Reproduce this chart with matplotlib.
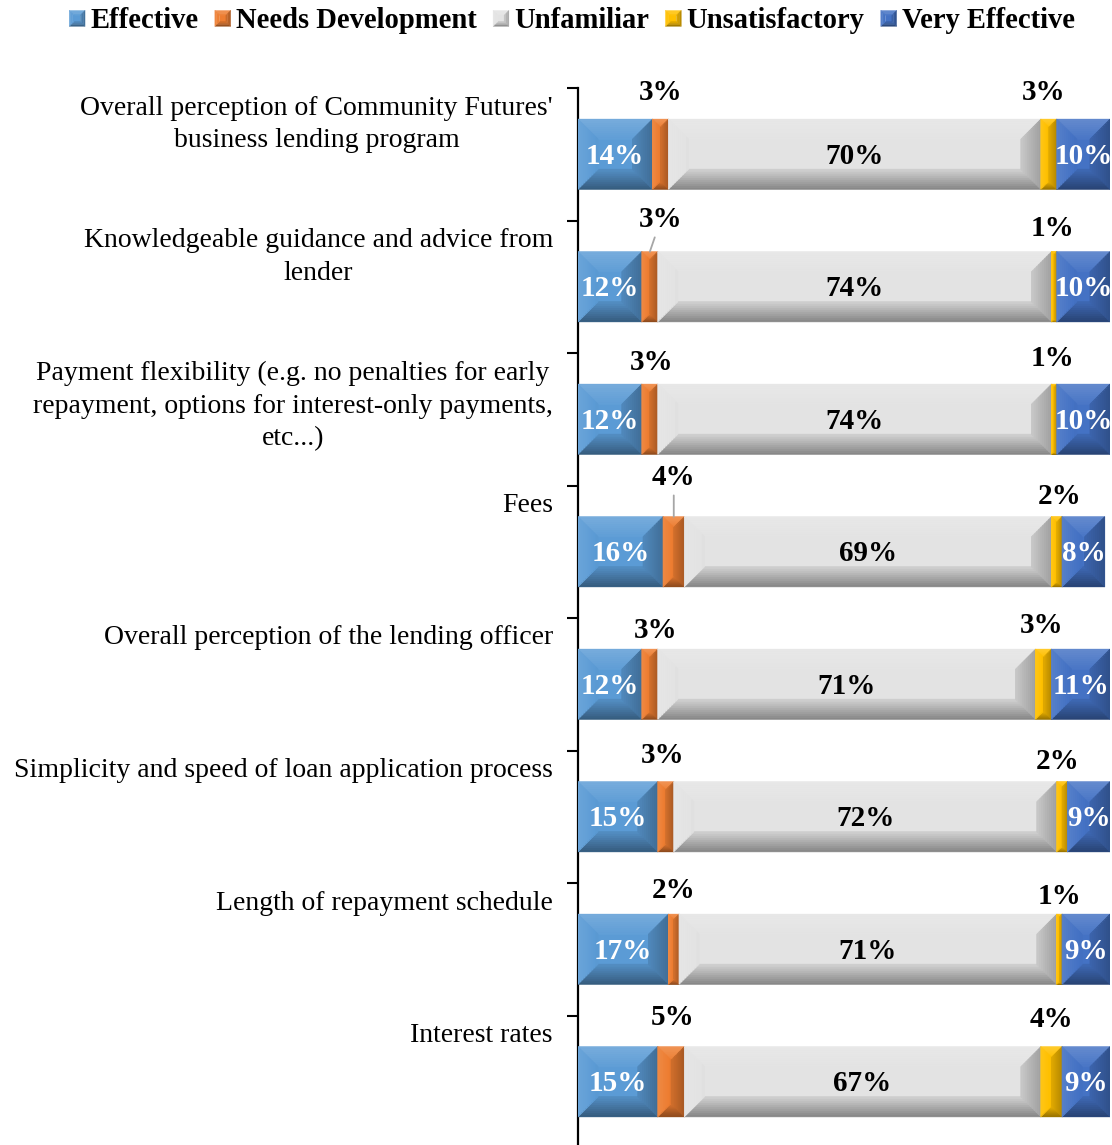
import numpy as np
import matplotlib
matplotlib.use("Agg")
import matplotlib.pyplot as plt
from matplotlib.collections import PolyCollection
from matplotlib.legend_handler import HandlerBase
from matplotlib.patches import Patch
from matplotlib.transforms import blended_transform_factory
from matplotlib import colors as mcolors

plt.rcParams['font.family'] = ['Liberation Serif', 'DejaVu Serif']

# ---- data -----------------------------------------------------------------
categories = [
    "Overall perception of Community Futures'\nbusiness lending program",
    "Knowledgeable guidance and advice from\nlender",
    "Payment flexibility (e.g. no penalties for early\nrepayment, options for interest-only payments,\netc...)",
    "Fees",
    "Overall perception of the lending officer",
    "Simplicity and speed of loan application process",
    "Length of repayment schedule",
    "Interest rates",
]
series_names = ["Effective", "Needs Development", "Unfamiliar",
                "Unsatisfactory", "Very Effective"]
effective = [14, 12, 12, 16, 12, 15, 17, 15]
needs_development = [3, 3, 3, 4, 3, 3, 2, 5]
unfamiliar = [70, 74, 74, 69, 71, 72, 71, 67]
unsatisfactory = [3, 1, 1, 2, 3, 2, 1, 4]
very_effective = [10, 10, 10, 8, 11, 9, 9, 9]

# ---- styling / layout -------------------------------------------------------
series_colors = ["#5B9BD5", "#ED7D31", "#E3E3E3", "#FFC000", "#4472C4"]
inside_text_colors = ["white", None, "black", None, "white"]
# offsets (pixels) of the small outside labels from the top-centre of their segment
needs_nudge = [(0, 27), (11, 32), (2, 22), (0, 39), (6, 19), (-3, 26), (0, 24), (2, 29)]
unsat_nudge = [(-5, 27), (-2, 23), (-2, 26), (3, 20), (-2, 24), (-4, 20), (0, 18), (0, 27)]
leader_rows = {1, 3}

W, H = 1112, 1145
fig = plt.figure(figsize=(W / 100, H / 100), dpi=100)
ax = fig.add_axes([578 / W, (H - 1148) / H, 532 / W, 1060 / H])

n = len(categories)
ypos = np.arange(n)
bar_h = 70 / 132.5
ax.set_xlim(0, 100)
ax.set_ylim(n - 0.5, -0.5)

values = np.array([effective, needs_development, unfamiliar,
                   unsatisfactory, very_effective], dtype=float)
lefts = np.vstack([np.zeros(n), np.cumsum(values, axis=0)[:-1]])

containers = []
for s in range(len(series_names)):
    bc = ax.barh(ypos, values[s], left=lefts[s], height=bar_h,
                 color=series_colors[s], edgecolor='none', zorder=2,
                 label=series_names[s])
    containers.append(bc)


def shade(color, f):
    r, g, b = mcolors.to_rgb(color)
    if f >= 0:
        return (r + (1 - r) * f, g + (1 - g) * f, b + (1 - b) * f)
    return (r * (1 + f), g * (1 + f), b * (1 + f))


# (edge factor, inner factor) for top, left, right, bottom faces
BEVEL = {"top": (0.18, 0.03), "left": (0.10, -0.02),
         "right": (-0.30, -0.12), "bottom": (-0.42, -0.08)}


def bevel_polys(x0, x1, yt, yb, bx, by, base, steps=10):
    """Quads and colours for a bevelled box; yt is the visually upper edge."""
    d = 1.0 if yb > yt else -1.0
    polys, cols = [], []
    ts = np.linspace(0, 1, steps + 1)
    for k in range(steps):
        a, b = ts[k], ts[k + 1]
        m = 0.5 * (a + b)
        faces = {
            "top": [(x0 + a * bx, yt + d * a * by), (x1 - a * bx, yt + d * a * by),
                    (x1 - b * bx, yt + d * b * by), (x0 + b * bx, yt + d * b * by)],
            "bottom": [(x0 + a * bx, yb - d * a * by), (x1 - a * bx, yb - d * a * by),
                       (x1 - b * bx, yb - d * b * by), (x0 + b * bx, yb - d * b * by)],
            "left": [(x0 + a * bx, yt + d * a * by), (x0 + b * bx, yt + d * b * by),
                     (x0 + b * bx, yb - d * b * by), (x0 + a * bx, yb - d * a * by)],
            "right": [(x1 - a * bx, yt + d * a * by), (x1 - b * bx, yt + d * b * by),
                      (x1 - b * bx, yb - d * b * by), (x1 - a * bx, yb - d * a * by)],
        }
        for name, quad in faces.items():
            fe, fi = BEVEL[name]
            polys.append(quad)
            cols.append(shade(base, fe + (fi - fe) * m))
    return polys, cols


# pixel scale of the data axes
p0 = ax.transData.transform((0, 0))
p1 = ax.transData.transform((1, 1))
px_x = abs(p1[0] - p0[0])
px_y = abs(p1[1] - p0[1])
BEVEL_PX = 20

all_polys, all_cols = [], []
for s, bc in enumerate(containers):
    for rect in bc.patches:
        x0 = rect.get_x()
        w = rect.get_width()
        x1 = min(x0 + w, 100)
        w = x1 - x0
        yt = rect.get_y()
        yb = yt + rect.get_height()
        b = min(BEVEL_PX, w * px_x / 2, rect.get_height() * px_y / 2)
        pl, cl = bevel_polys(x0, x1, yt, yb, b / px_x, b / px_y, series_colors[s])
        all_polys += pl
        all_cols += cl
ax.add_collection(PolyCollection(all_polys, facecolors=all_cols,
                                 edgecolors=all_cols, linewidths=0.6,
                                 zorder=3, antialiased=True))

# ---- value labels -----------------------------------------------------------
lab_font = dict(fontsize=21, fontweight='bold', family='Liberation Serif')
for s in (0, 2, 4):
    for i in range(n):
        x0 = lefts[s][i]
        x1 = min(x0 + values[s][i], 100)
        ax.text((x0 + x1) / 2, ypos[i] + 0.015, f"{int(values[s][i])}%",
                ha='center', va='center', color=inside_text_colors[s],
                zorder=5, **lab_font)

for s, nudges in ((1, needs_nudge), (3, unsat_nudge)):
    for i in range(n):
        xc = lefts[s][i] + values[s][i] / 2
        ytop = ypos[i] - bar_h / 2
        dx, dy = nudges[i]
        arrow = None
        if s == 1 and i in leader_rows:
            arrow = dict(arrowstyle='-', color='#A6A6A6', lw=1.3,
                         shrinkA=1, shrinkB=0)
        ax.annotate(f"{int(values[s][i])}%", xy=(xc, ytop),
                    xytext=(dx, dy), textcoords='offset pixels',
                    ha='center', va='center', color='black', zorder=5,
                    arrowprops=arrow, annotation_clip=False, **lab_font)

# ---- axes styling -----------------------------------------------------------
for side in ('top', 'right', 'bottom'):
    ax.spines[side].set_visible(False)
ax.spines['left'].set_linewidth(1.6)
ax.spines['left'].set_color('black')
ax.set_xticks([])
ax.set_yticks(np.arange(-0.5, n, 1.0))
ax.set_yticklabels([])
ax.tick_params(axis='y', direction='out', length=8, width=1.5, color='black')

trans = blended_transform_factory(ax.transAxes, ax.transData)
for i, cat in enumerate(categories):
    nl = cat.count("\n") + 1
    yc = (i - 0.5) + (20 + (nl - 1) * 16.5) / 132.5
    ax.text(-25 / 532, yc, cat, transform=trans, ha='right', va='center',
            multialignment='center', fontsize=20, linespacing=1.38,
            color='black')


# ---- legend with bevelled keys ---------------------------------------------
class BevelKey(HandlerBase):
    def create_artists(self, legend, orig_handle, xdescent, ydescent,
                       width, height, fontsize, trans):
        side = min(width, height)
        x0 = -xdescent + (width - side) / 2
        y0 = -ydescent + (height - side) / 2
        base = orig_handle.get_facecolor()
        b = side * 0.3
        pl, cl = bevel_polys(x0, x0 + side, y0 + side, y0, b, b, base, steps=3)
        inner = [[(x0 + b, y0 + b), (x0 + side - b, y0 + b),
                  (x0 + side - b, y0 + side - b), (x0 + b, y0 + side - b)]]
        pc = PolyCollection(inner + pl, facecolors=[base] + cl,
                            edgecolors=[base] + cl, linewidths=0.3,
                            transform=trans)
        return [pc]


handles = [Patch(facecolor=c) for c in series_colors]
fig.legend(handles, series_names, loc='center', bbox_to_anchor=(572 / W, 1 - 21 / H),
           ncol=5, frameon=False, handler_map={Patch: BevelKey()},
           prop=dict(family='Liberation Serif', weight='bold', size=20.6),
           handlelength=0.55, handleheight=0.55, handletextpad=0.18,
           columnspacing=0.58, borderpad=0, borderaxespad=0)

fig.savefig("out.png", dpi=100, facecolor='white')
